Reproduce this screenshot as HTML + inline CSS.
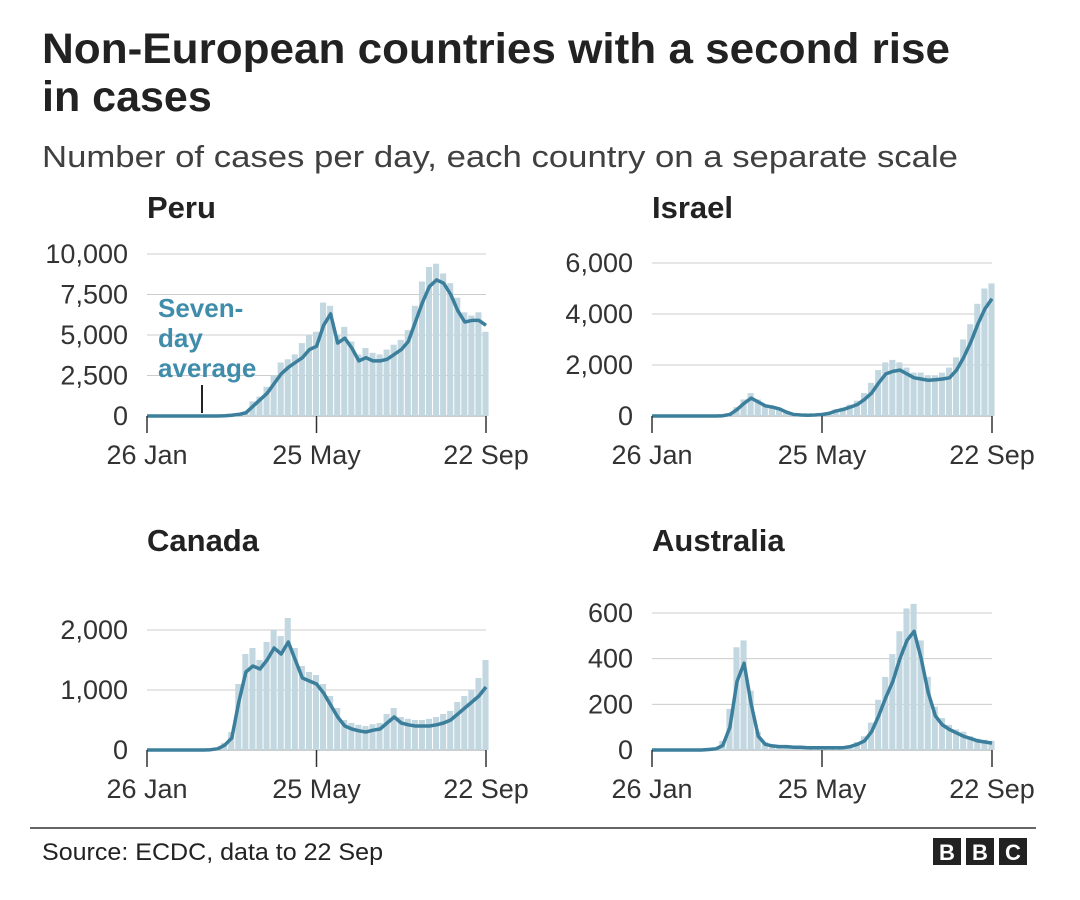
<!DOCTYPE html>
<html><head><meta charset="utf-8"><style>
body{margin:0;background:#fff;font-family:"Liberation Sans",Arial,sans-serif;}
svg text{font-family:"Liberation Sans",Arial,sans-serif;}
</style></head><body>
<svg id="chart" width="1080" height="895" viewBox="0 0 1080 895">
<text x="42" y="63" font-size="43" font-weight="bold" fill="#222" textLength="908" lengthAdjust="spacingAndGlyphs">Non-European countries with a second rise</text>
<text x="42" y="111" font-size="43" font-weight="bold" fill="#222">in cases</text>
<text x="42" y="167" font-size="31" fill="#404040" textLength="916" lengthAdjust="spacingAndGlyphs">Number of cases per day, each country on a separate scale</text>
<g id="panels"></g>
<line x1="30" y1="828" x2="1036" y2="828" stroke="#333" stroke-width="1.5"/>
<text x="42" y="860" font-size="24" fill="#222" textLength="341" lengthAdjust="spacingAndGlyphs">Source: ECDC, data to 22 Sep</text>
<g>
<rect x="933" y="838" width="28" height="27" fill="#222"/><text x="947" y="860" font-size="22" font-weight="bold" fill="#fff" text-anchor="middle">B</text>
<rect x="966" y="838" width="28" height="27" fill="#222"/><text x="980" y="860" font-size="22" font-weight="bold" fill="#fff" text-anchor="middle">B</text>
<rect x="999" y="838" width="28" height="27" fill="#222"/><text x="1013" y="860" font-size="22" font-weight="bold" fill="#fff" text-anchor="middle">C</text>
</g>
</svg>
<script>
// every 5 days from 26 Jan (day 0) to 22 Sep (day 240)
const xTickLabels = ["26 Jan","25 May","22 Sep"];
const xTickDays = [0,120,240];
const peruAvg = [0,0,0,0,0,0,0,0,0,0, 0,20,50,100,200,600,1000,1400,2000,2600,3000,3300,3600,4100,4300,5600,6300,4500,4800,4200,3400,3600,3400,3400,3500,3800,4100,4600,5800,7000,8000,8400,8200,7500,6500,5800,5900,5900,5600];
const peruBars = [0,0,0,0,0,0,0,0,0,0, 0,30,60,150,300,900,1200,1800,2500,3300,3500,3800,4500,5000,5200,7000,6800,5000,5500,4600,3800,4200,3900,3800,4100,4400,4700,5300,6800,8300,9200,9400,8800,8200,7300,6400,6200,6400,5200];
const peruTicks = [0,2500,5000,7500,10000];
const israelAvg = [0,0,0,0,0,0,0,0,0,0, 10,60,250,500,700,550,400,350,280,150,60,40,30,40,60,100,200,260,350,450,650,900,1300,1650,1750,1800,1650,1500,1450,1400,1420,1450,1500,1800,2300,2900,3600,4200,4600];
const israelBars = [0,0,0,0,0,0,0,0,0,0, 20,90,350,650,900,650,450,400,320,180,80,60,40,60,80,130,260,330,450,600,900,1300,1800,2100,2200,2100,1900,1700,1700,1600,1600,1700,1900,2300,3000,3600,4400,5000,5200];
const israelTicks = [0,2000,4000,6000];
const canadaAvg = [0,0,0,0,0,0,0,0,0,5, 20,80,200,800,1300,1400,1350,1500,1700,1600,1800,1500,1200,1150,1100,950,750,550,400,350,320,300,330,350,450,550,450,420,400,400,400,420,450,500,600,700,800,900,1050];
const canadaBars = [0,0,0,0,0,0,0,0,0,10, 40,120,300,1100,1600,1700,1500,1800,2000,1900,2200,1700,1400,1300,1250,1100,900,700,500,450,420,400,430,450,600,700,550,520,500,500,520,550,600,650,800,900,1000,1200,1500];
const canadaTicks = [0,1000,2000];
const ausAvg = [0,0,0,0,0,0,0,0,2,5, 20,100,300,380,200,60,25,18,15,15,12,12,10,10,10,10,10,10,15,25,40,80,150,230,300,400,480,520,400,250,150,110,90,75,60,50,40,35,30];
const ausBars = [0,0,0,0,0,0,0,0,4,10, 40,180,450,480,260,80,35,25,20,20,15,15,12,12,12,12,14,15,20,35,60,120,220,320,420,520,620,640,480,320,190,140,110,90,80,60,50,45,40];
const ausTicks = [0,200,400,600];

const panels = [
 {name:"Peru", x0:147, x1:486, y0:416, ymax:10000, ytop:254, ticks:peruTicks, avg:peruAvg, bars:peruBars, titleY:218},
 {name:"Israel", x0:652, x1:992, y0:416, ymax:6000, ytop:263, ticks:israelTicks, avg:israelAvg, bars:israelBars, titleY:218},
 {name:"Canada", x0:147, x1:486, y0:750, ymax:2000, ytop:630, ticks:canadaTicks, avg:canadaAvg, bars:canadaBars, titleY:551},
 {name:"Australia", x0:652, x1:992, y0:750, ymax:600, ytop:613, ticks:ausTicks, avg:ausAvg, bars:ausBars, titleY:551}
];
const NS="http://www.w3.org/2000/svg";
const root=document.getElementById("panels");
function mk(tag,attrs,parent){const e=document.createElementNS(NS,tag);for(const k in attrs)e.setAttribute(k,attrs[k]);parent.appendChild(e);return e;}
panels.forEach(p=>{
 const g=mk("g",{},root);
 
 
 const xs=d=>p.x0+(p.x1-p.x0)*d/240;
 const ys=v=>p.y0-(p.y0-p.ytop)*v/p.ymax;
 const t=mk("text",{x:p.x0,y:p.titleY,"font-size":31,"font-weight":"bold",fill:"#222"},g);
 t.textContent=p.name;
 
 
 p.ticks.forEach(v=>{
  const l=mk("line",{x1:p.x0,x2:p.x1,y1:ys(v),y2:ys(v),stroke:v===0?"#999":"#ccc","stroke-width":1},g);
  
  
  const tx=mk("text",{x:p.x0-19,y:ys(v)+9,"font-size":27,fill:"#333","text-anchor":"end"},g);
  tx.textContent=v.toLocaleString("en-US");
  
  
 });
 p.bars.forEach((v,i)=>{
  if(v<=0)return;
  const d=i*5;
  const r=mk("rect",{x:xs(Math.max(0,d-2.5)),y:ys(v),width:Math.max(1,(p.x1-p.x0)*5/240-1),height:p.y0-ys(v),fill:"#c2d7e0"},g);
  
  
 });
 const pts=p.avg.map((v,i)=>xs(i*5).toFixed(1)+","+ys(v).toFixed(1)).join(" ");
 const pl=mk("polyline",{points:pts,fill:"none",stroke:"#3c7f9c","stroke-width":3.5,"stroke-linejoin":"round"},g);
 
 
 xTickDays.forEach((d,i)=>{
  const tk=mk("line",{x1:xs(d),x2:xs(d),y1:p.y0,y2:p.y0+17,stroke:"#333","stroke-width":1.5},g);
  
  
  const tl=mk("text",{x:xs(d),y:p.y0+48,"font-size":27,fill:"#333","text-anchor":"middle"},g);
  tl.textContent=xTickLabels[i];
  
  
 });
});
const ann=mk("g",{},root);


mk("line",{x1:202,x2:202,y1:385,y2:413,stroke:"#222","stroke-width":2},ann);
["Seven-","day","average"].forEach((s,i)=>{
 const t=mk("text",{x:158,y:317+i*30,"font-size":26,"font-weight":"bold",fill:"#3f8cab"},ann);
 t.textContent=s;
});
</script>
</body></html>
